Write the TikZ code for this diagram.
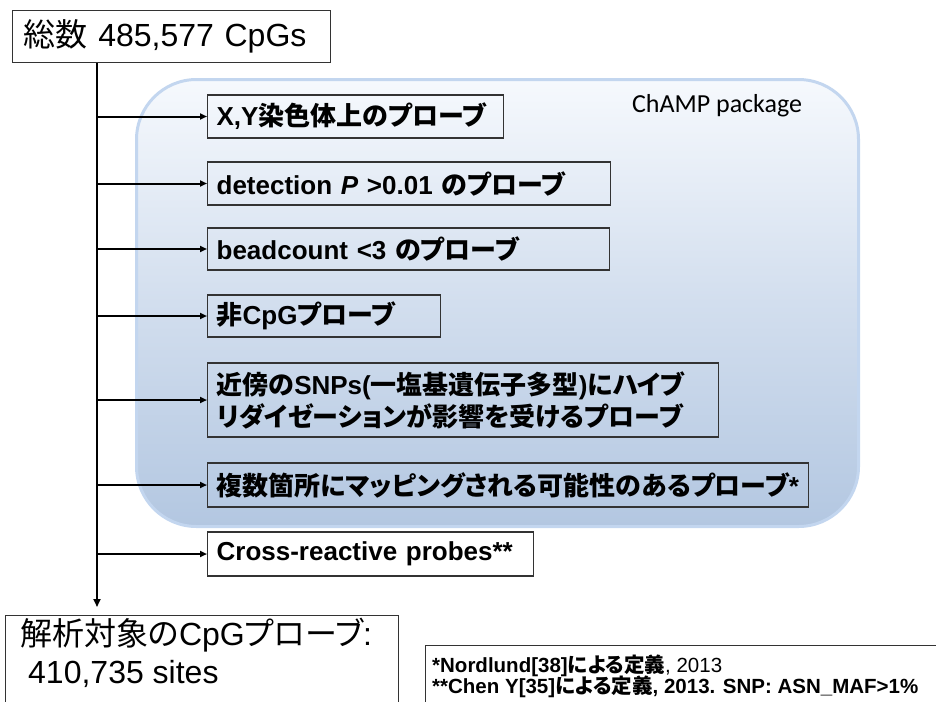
\documentclass[tikz,border=0pt]{standalone}
\usepackage{fontspec}
\setmainfont{Liberation Sans}
\newfontfamily\cjk[RawFeature=+palt]{Noto Sans CJK JP}
\newfontfamily\calib{Carlito}
\newcommand\J[1]{{\cjk #1}}
\usetikzlibrary{arrows.meta}

\definecolor{panelTop}{HTML}{F6F9FD}
\definecolor{panelMid}{HTML}{D2DEEE}
\definecolor{panelBottom}{HTML}{B3C7E1}
\definecolor{panelEdge}{HTML}{C3D6EF}
\definecolor{boxEdge}{HTML}{333333}

\begin{document}
\begin{tikzpicture}[x=1pt,y=-1pt,
  framebox/.style={draw=boxEdge, line width=1.3pt},
  filterbox/.style={framebox, anchor=west, inner xsep=9pt, inner ysep=0pt,
    align=left, font=\fontsize{26}{32}\selectfont\bfseries},
  branch/.style={line width=2pt, -{Triangle[length=7pt,width=6pt]}},
  trunk/.style={line width=2.5pt, -{Triangle[length=8pt,width=7pt]}},
  panel/.style={draw=panelEdge, line width=3pt, rounded corners=60pt,
    top color=panelTop, bottom color=panelBottom, middle color=panelMid},
]
\useasboundingbox (0,0) rectangle (936,701);
\clip (0,0) rectangle (936,701);

% package panel behind the filtering steps
\node[panel, anchor=north west, minimum width=722pt, minimum height=447pt]
  (panel) at (135,78) {};
\node[font=\calib\fontsize{26}{30}\selectfont] (pkg) at (717,106) {ChAMP package};

% starting set
\node[framebox, anchor=north west, minimum height=52pt, text width=296pt,
  inner xsep=11pt, inner ysep=0pt, align=left, font=\fontsize{32}{38}\selectfont]
  (total) at (12,10) {\J{総数} 485,577 CpGs};
\coordinate (spine) at ([xshift=85pt]total.south west);

% filtering steps
\node[filterbox, text width=278pt, minimum height=43pt] (f1) at (207,116.5)
  {X,Y\J{染色体上のプローブ}};
\node[filterbox, text width=385pt, minimum height=43pt] (f2) at (207,183.5)
  {detection \textit{P} >0.01 \J{のプローブ}};
\node[filterbox, text width=384pt, minimum height=42pt] (f3) at (207,249)
  {beadcount <3 \J{のプローブ}};
\node[filterbox, text width=215pt, minimum height=42pt] (f4) at (207,316)
  {\J{非}CpG\J{プローブ}};
\node[filterbox, text width=493pt, minimum height=74pt] (f5) at (207,400)
  {\J{近傍の}SNPs(\J{一塩基遺伝子多型})\J{にハイブ}\\\J{リダイゼーションが影響を受けるプローブ}};
\node[filterbox, text width=583pt, minimum height=44pt] (f6) at (207,485)
  {\J{複数箇所にマッピングされる可能性のあるプローブ}*};
\node[filterbox, text width=308pt, minimum height=44pt] (f7) at (207,554)
  {Cross-reactive probes**};

% remaining set
\node[framebox, anchor=north west, minimum width=393pt, minimum height=120pt]
  (result) at (5,615) {};
\node[anchor=base west, inner sep=0pt, font=\fontsize{32}{38}\selectfont]
  (resultA) at (20,645) {\J{解析対象の}CpG\J{プローブ}:};
\node[anchor=base west, inner sep=0pt, font=\fontsize{32}{38}\selectfont]
  (resultB) at (28,683) {410,735 sites};

% footnotes
\node[framebox, anchor=north west, minimum width=600pt, minimum height=100pt]
  (note) at (425,645) {};
\node[anchor=base west, inner sep=0pt, font=\fontsize{20.5}{24}\selectfont]
  (noteA) at (432,672) {\textbf{*Nordlund[38]\J{による定義}}, 2013};
\node[anchor=base west, inner sep=0pt, font=\fontsize{20.5}{24}\selectfont\bfseries]
  (noteB) at (432,693) {**Chen Y[35]\J{による定義}, 2013. SNP: ASN\_MAF>1\%};

% connectors
\draw[trunk] (spine) -- ([yshift=8pt]spine |- result.north);
\foreach \n in {f1,f2,f3,f4,f5,f6,f7}
  \draw[branch] (spine |- \n.west) -- (\n.west);
\end{tikzpicture}
\end{document}
